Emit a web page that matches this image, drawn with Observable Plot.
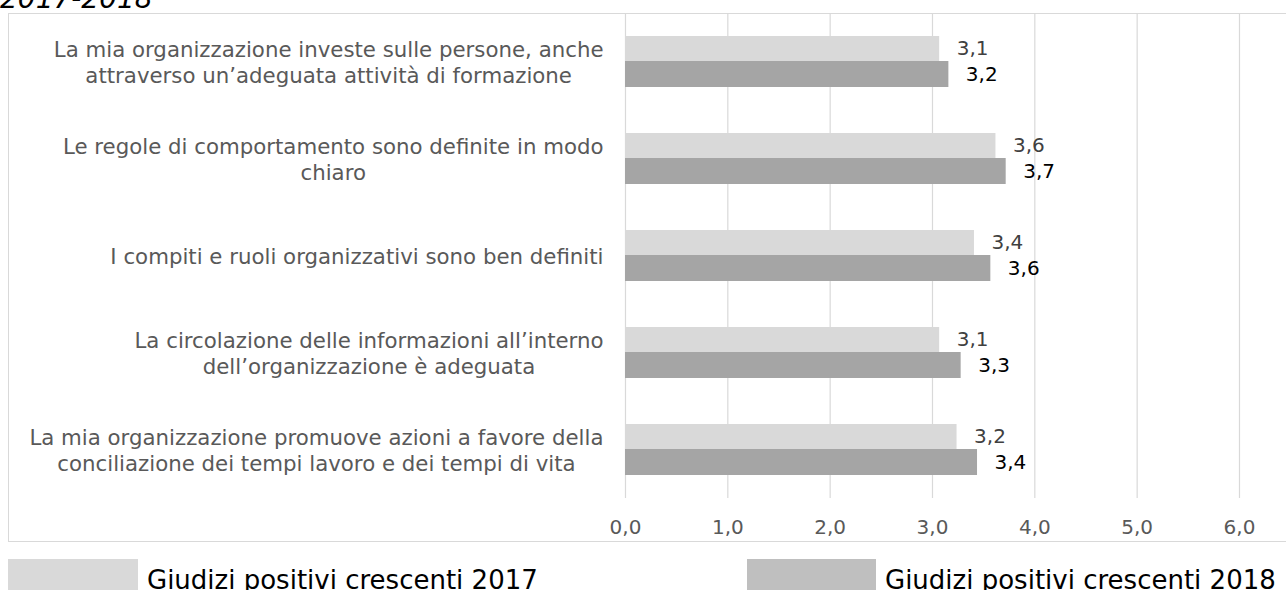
<!DOCTYPE html>
<html><head><meta charset="utf-8">
<script src="https://cdn.jsdelivr.net/npm/d3@7"></script>
<script src="https://cdn.jsdelivr.net/npm/@observablehq/plot@0.6"></script>
<style>
html,body{margin:0;padding:0;background:#fff;width:1286px;height:590px;overflow:hidden;position:relative;font-family:"DejaVu Sans",Verdana,sans-serif;}
#title{position:absolute;left:0px;top:-15px;font-size:28px;font-style:italic;color:#000;line-height:28px;white-space:nowrap}
#box{position:absolute;left:8px;top:13px;width:1300px;height:529px;border:1px solid #d9d9d9;box-sizing:border-box}
#chart{position:absolute;left:0;top:13px}
.sw{position:absolute;top:559px;height:40px}
.lt{position:absolute;top:567px;font-size:26px;line-height:26px;color:#000;white-space:nowrap}
</style>
</head><body>
<div id="title">2017-2018</div>
<div id="box"></div>
<div id="chart"></div>
<div class="sw" style="left:8px;width:130px;background:#d9d9d9"></div>
<div class="lt" id="lt2017" style="left:147px"></div>
<div class="sw" style="left:747px;width:129px;background:#bfbfbf"></div>
<div class="lt" id="lt2018" style="left:885px"></div>
<script>
const categories = [
  "La mia organizzazione investe sulle persone, anche\nattraverso un’adeguata attività di formazione",
  "Le regole di comportamento sono definite in modo\nchiaro",
  "I compiti e ruoli organizzativi sono ben definiti",
  "La circolazione delle informazioni all’interno\ndell’organizzazione è adeguata",
  "La mia organizzazione promuove azioni a favore della\nconciliazione dei tempi lavoro e dei tempi di vita"
];
const values2017 = [3.07, 3.62, 3.41, 3.07, 3.24];
const values2018 = [3.16, 3.72, 3.57, 3.28, 3.44];
const seriesNames = ["Giudizi positivi crescenti 2017", "Giudizi positivi crescenti 2018"];
const xTicks = [0, 1, 2, 3, 4, 5, 6];
const titleText = "2017-2018";

document.getElementById("title").textContent = titleText;
document.getElementById("lt2017").textContent = seriesNames[0];
document.getElementById("lt2018").textContent = seriesNames[1];

const rows = categories.map((c, i) => ({cat: c, v2017: values2017[i], v2018: values2018[i]}));
const fmt = v => d3.format(".1f")(v).replace(".", ",");

const catFont = 21.3;
const ctx = document.createElement("canvas").getContext("2d");
ctx.font = `${catFont}px "DejaVu Sans"`;
const labelMarks = rows.map(r => {
  const w = d3.max(r.cat.split("\n"), s => ctx.measureText(s).width);
  return Plot.text([r], {y: "cat", text: "cat", frameAnchor: "left", textAnchor: "middle",
    dx: -(22 + w / 2), lineHeight: 1.22, fill: "#595959", fontSize: catFont});
});

const chart = Plot.plot({
  width: 1286, height: 528,
  marginLeft: 625, marginRight: 47, marginTop: 0, marginBottom: 43,
  style: {fontFamily: "DejaVu Sans", fontSize: "20px", background: "transparent"},
  x: {domain: [0, 6], axis: null},
  y: {domain: categories, padding: 0, axis: null},
  marks: [
    Plot.gridX(xTicks, {stroke: "#d9d9d9", strokeOpacity: 1, strokeWidth: 1.2}),
    Plot.barX(rows, {x: "v2017", y: "cat", fill: "#d9d9d9", insetTop: 23, insetBottom: 49}),
    Plot.barX(rows, {x: "v2018", y: "cat", fill: "#a5a5a5", insetTop: 48, insetBottom: 23}),
    Plot.text(rows, {x: "v2017", y: "cat", text: d => fmt(d.v2017), textAnchor: "start", dx: 17, dy: -13, fill: "#404040", fontSize: 20}),
    Plot.text(rows, {x: "v2018", y: "cat", text: d => fmt(d.v2018), textAnchor: "start", dx: 17, dy: 13, fill: "#000", fontSize: 20}),
    Plot.axisX(xTicks, {tickSize: 0, tickPadding: 21, tickFormat: fmt, fontSize: 20, color: "#595959", label: null}),
    ...labelMarks
  ]
});
document.getElementById("chart").appendChild(chart);
</script>
</body></html>
